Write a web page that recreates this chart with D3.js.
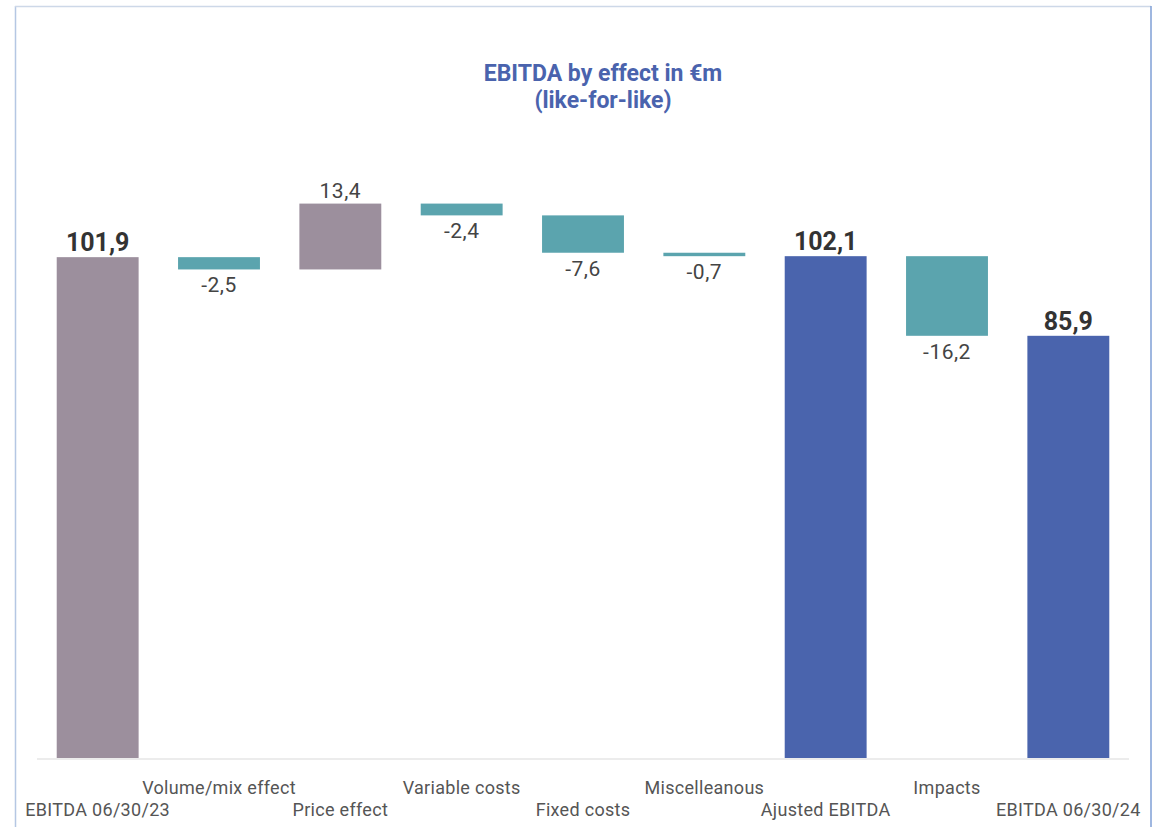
<!DOCTYPE html>
<html>
<head>
<meta charset="utf-8">
<script src="https://cdn.jsdelivr.net/npm/d3@7"></script>
<style>
  html, body { margin: 0; padding: 0; background: #ffffff; }
  svg { display: block; }
</style>
</head>
<body>
<svg id="chart" width="1153" height="827"></svg>
<script>
// ---- Data ----
const categories = ["EBITDA 06/30/23", "Volume/mix effect", "Price effect", "Variable costs",
                    "Fixed costs", "Miscelleanous", "Ajusted EBITDA", "Impacts", "EBITDA 06/30/24"];
const values = [101.9, -2.5, 13.4, -2.4, -7.6, -0.7, 102.1, -16.2, 85.9];
const kinds  = ["start", "delta", "delta", "delta", "delta", "delta", "total", "delta", "total"];
const titleLines = ["EBITDA by effect in €m", "(like-for-like)"];

// ---- Layout ----
const W = 1153, H = 827;
const svg = d3.select("#chart");

const x = d3.scaleBand().domain(categories).range([37, 1129])
  .paddingInner(0.325).paddingOuter(0.1625);
const y = d3.scaleLinear().domain([0, 120]).range([758, 758 - 120 * 4.915]);

// waterfall computation
let running = 0;
const bars = categories.map((c, i) => {
  const v = values[i], k = kinds[i];
  let lo, hi;
  if (k === "delta") {
    const start = running, end = running + v;
    lo = Math.min(start, end); hi = Math.max(start, end);
    running = end;
  } else {
    lo = 0; hi = v; running = v;
  }
  return { cat: c, v, k, lo, hi, i };
});

const colGrey = "#9c8f9d", colTeal = "#5ba4ae", colBlue = "#4a64ad";
const color = d => d.k === "start" ? colGrey : d.k === "total" ? colBlue : (d.v >= 0 ? colGrey : colTeal);
const FONT = "Roboto, 'DejaVu Sans', sans-serif";

// frame
svg.append("line").attr("x1", 15.5).attr("x2", 15.5).attr("y1", 6).attr("y2", H)
  .attr("stroke", "#b5c7e3").attr("stroke-width", 1.5);
svg.append("line").attr("x1", 15).attr("x2", 1151).attr("y1", 6.5).attr("y2", 6.5)
  .attr("stroke", "#cdd8e8").attr("stroke-width", 1.5);
svg.append("line").attr("x1", 1151).attr("x2", 1151).attr("y1", 6).attr("y2", H)
  .attr("stroke", "#7f9fd6").attr("stroke-width", 1.5);

// title
const title = svg.append("text").attr("text-anchor", "middle")
  .attr("font-family", FONT)
  .attr("font-weight", 700).attr("font-size", 23).attr("fill", "#4a63ad");
titleLines.forEach((t, i) => {
  title.append("tspan").attr("x", 603).attr("y", 81 + i * 27).text(t);
});

// baseline
svg.append("line").attr("x1", 37).attr("x2", 1129).attr("y1", y(0) + 1).attr("y2", y(0) + 1)
  .attr("stroke", "#d9d9d9").attr("stroke-width", 1.2);

// bars
svg.append("g").selectAll("rect").data(bars).join("rect")
  .attr("x", d => x(d.cat))
  .attr("width", x.bandwidth())
  .attr("y", d => y(d.hi))
  .attr("height", d => Math.max(1, y(d.lo) - y(d.hi)))
  .attr("fill", color);

// value labels
const fmt = v => (v < 0 ? "-" : "") + d3.format(".1f")(Math.abs(v)).replace(".", ",");
svg.append("g").selectAll("text").data(bars).join("text")
  .attr("x", d => x(d.cat) + x.bandwidth() / 2)
  .attr("y", d => (d.k !== "delta" || d.v >= 0) ? y(d.hi) - 6 : y(d.lo) + 23)
  .attr("text-anchor", "middle")
  .attr("font-family", FONT)
  .attr("font-weight", d => d.k === "delta" ? 400 : 700)
  .attr("font-size", d => d.k === "delta" ? 21 : 25)
  .attr("letter-spacing", d => d.k === "delta" ? 0.5 : 0)
  .attr("fill", d => d.k === "delta" ? "#444444" : "#333333")
  .text(d => fmt(d.v));

// category labels (staggered)
svg.append("g").selectAll("text").data(bars).join("text")
  .attr("x", d => x(d.cat) + x.bandwidth() / 2)
  .attr("y", d => d.i % 2 === 1 ? 794 : 816)
  .attr("text-anchor", "middle")
  .attr("font-family", FONT)
  .attr("font-size", 18)
  .attr("letter-spacing", 0.3)
  .attr("fill", "#555555")
  .text(d => d.cat);
</script>
</body>
</html>
